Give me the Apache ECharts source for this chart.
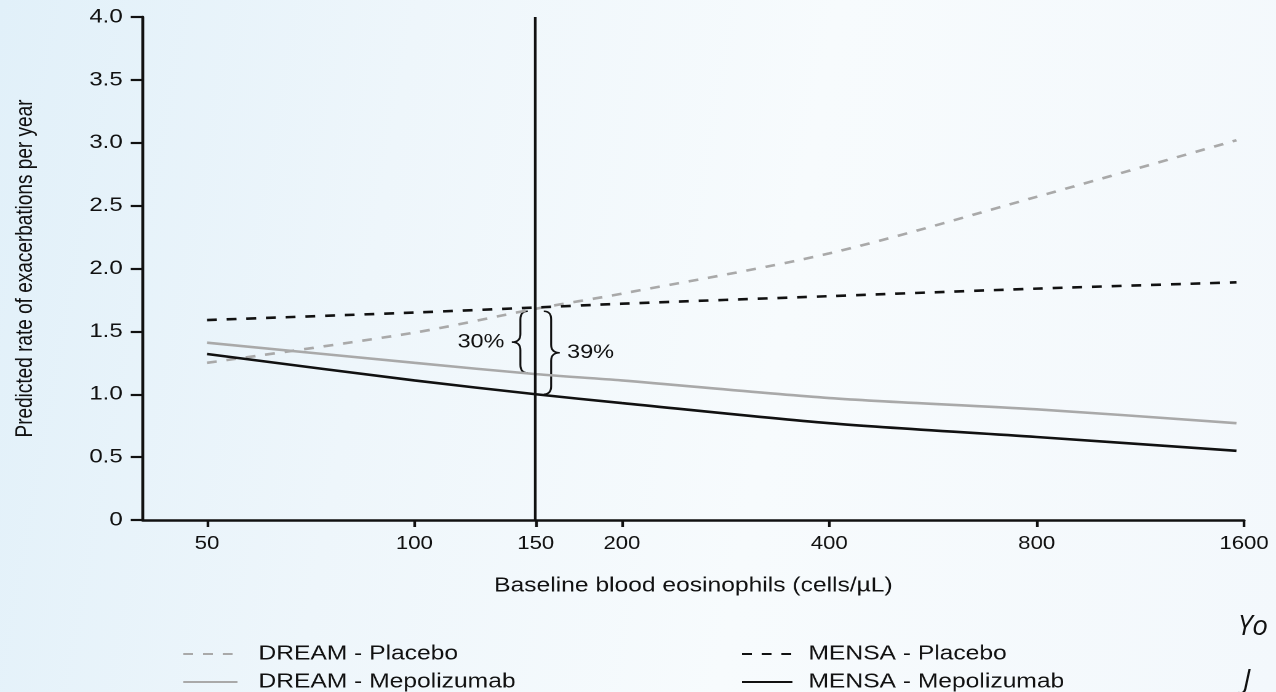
<!DOCTYPE html>
<html>
<head>
<meta charset="utf-8">
<script src="https://cdn.jsdelivr.net/npm/echarts@6/dist/echarts.min.js"></script>
<style>
  html, body {
    margin: 0;
    width: 1276px;
    height: 692px;
    overflow: hidden;
  }
  body {
    position: relative;
    background: linear-gradient(100deg, #e1f0f9 0%, #eef6fb 30%, #f7fbfd 60%, #f3f8fc 100%);
  }
  /* the original figure is stretched sideways on its slide */
  #chart {
    width: 1037px;
    height: 692px;
    transform: scaleX(1.2305);
    transform-origin: 0 0;
  }
  .cite {
    position: absolute;
    font: italic 28px 'Open Sans', sans-serif;
    line-height: 30px;
    color: #111;
  }
</style>
</head>
<body>
<div id="chart"></div>
<div class="cite" style="left:1238px; top:609px;">Yo</div>
<div class="cite" style="left:1243px; top:663px;">J</div>
<script>
// x axis: log2 scale, labelled at these counts
const tickValues = [50, 100, 150, 200, 400, 800, 1600];

// eosinophil counts at which the curves were read
const eos = [50, 100, 150, 200, 400, 800, 1560];
const dreamPlacebo = [1.25, 1.49, 1.68, 1.80, 2.12, 2.57, 3.02];
const dreamMepo = [1.41, 1.25, 1.16, 1.11, 0.97, 0.88, 0.77];
const mensaPlacebo = [1.59, 1.65, 1.69, 1.72, 1.78, 1.84, 1.89];
const mensaMepo = [1.32, 1.11, 1.00, 0.93, 0.77, 0.66, 0.55];

// reduction braces at 150 cells/uL
const cutoff = 150;
const braceTop = [1.66, 1.66];
const braceBottom = [1.17, 1.0];
const braceLabels = ['30%', '39%'];
const braceSides = [-1, 1];

const font = '"Liberation Sans", Arial, sans-serif';

// doublings above 50 cells/uL
function toUnit(v) {
  return Math.log2(v / 50);
}

const tickUnits = tickValues.map(toUnit);

function pairs(ys) {
  return eos.map((x, i) => [toUnit(x), ys[i]]);
}

const grey = '#a9a9a9';
const black = '#111111';

function lineSeries(name, ys, color, dashed) {
  return {
    name: name,
    type: 'line',
    data: pairs(ys),
    smooth: 0.3,
    symbol: 'none',
    lineStyle: { color: color, width: 2.6, type: dashed ? [8, 8] : 'solid' },
    itemStyle: { color: color },
  };
}

const series = [
  lineSeries('DREAM - Placebo', dreamPlacebo, grey, true),
  lineSeries('DREAM - Mepolizumab', dreamMepo, grey, false),
  lineSeries('MENSA - Placebo', mensaPlacebo, black, true),
  lineSeries('MENSA - Mepolizumab', mensaMepo, black, false),
];

series[3].markLine = {
  silent: true,
  symbol: 'none',
  label: { show: false },
  lineStyle: { color: black, width: 2.2, type: 'solid' },
  data: [{ xAxis: toUnit(cutoff) }],
};

series.push({
  name: 'braces',
  type: 'custom',
  clip: false,
  silent: true,
  data: braceTop.map((t, i) => [toUnit(cutoff), t, braceBottom[i]]),
  encode: { x: 0, y: [1, 2] },
  renderItem: function (params, api) {
    const i = params.dataIndex;
    const s = braceSides[i];
    const e = -s;
    const top = api.coord([api.value(0), api.value(1)]);
    const bot = api.coord([api.value(0), api.value(2)]);
    const bx = top[0] + s * 12.5;
    const y1 = top[1], y2 = bot[1], ym = (y1 + y2) / 2;
    const rx = 6, ry = 8, tw = 7;
    const d = 'M' + (bx + e * rx) + ' ' + y1 +
      ' Q' + bx + ' ' + y1 + ' ' + bx + ' ' + (y1 + ry) +
      ' L' + bx + ' ' + (ym - ry) +
      ' Q' + bx + ' ' + ym + ' ' + (bx + s * tw) + ' ' + ym +
      ' Q' + bx + ' ' + ym + ' ' + bx + ' ' + (ym + ry) +
      ' L' + bx + ' ' + (y2 - ry) +
      ' Q' + bx + ' ' + y2 + ' ' + (bx + e * rx) + ' ' + y2;
    const x0 = Math.min(bx + e * rx, bx + s * tw);
    const x1 = Math.max(bx + e * rx, bx + s * tw);
    return {
      type: 'group',
      children: [
        {
          type: 'path',
          shape: { pathData: d, x: x0, y: y1, width: x1 - x0, height: y2 - y1, layout: 'cover' },
          style: { fill: null, stroke: black, lineWidth: 1.6 },
        },
        {
          type: 'text',
          style: {
            x: bx + s * (tw + 6),
            y: ym,
            text: braceLabels[i],
            fill: '#111',
            font: '19px ' + font,
            align: s < 0 ? 'right' : 'left',
            verticalAlign: 'middle',
          },
        },
      ],
    };
  },
});

const legendCommon = {
  type: 'plain',
  orient: 'vertical',
  top: 644,
  height: 80,
  padding: 0,
  itemHeight: 14,
  itemGap: 8,
  selectedMode: false,
  itemStyle: { opacity: 0 },
};

const chartOption = {
  animation: false,
  backgroundColor: 'transparent',
  grid: { left: 116, right: 26, top: 17, bottom: 172, outerBoundsMode: 'none' },
  legend: [
    Object.assign({
      left: 148,
      itemWidth: 44,
      data: ['DREAM - Placebo', 'DREAM - Mepolizumab'],
      textStyle: { fontSize: 20, fontFamily: font, color: '#111', padding: [0, 0, 0, 12] },
    }, legendCommon),
    Object.assign({
      left: 602,
      itemWidth: 41,
      data: ['MENSA - Placebo', 'MENSA - Mepolizumab'],
      textStyle: { fontSize: 20, fontFamily: font, color: '#111', padding: [0, 0, 0, 8] },
    }, legendCommon),
  ],
  xAxis: {
    type: 'value',
    min: -0.31,
    max: 5,
    name: 'Baseline blood eosinophils (cells/µL)',
    nameLocation: 'middle',
    nameGap: 56,
    nameTextStyle: { fontSize: 20, fontFamily: font, color: '#111' },
    axisLine: { show: true, onZero: false, lineStyle: { color: black, width: 2.5 } },
    axisTick: { show: true, length: 7, customValues: tickUnits, lineStyle: { color: black, width: 2.2 } },
    axisLabel: {
      customValues: tickUnits,
      margin: 15,
      fontSize: 18,
      fontFamily: font,
      color: '#111',
      formatter: (value) => {
        const i = tickUnits.findIndex((u) => Math.abs(u - value) < 1e-6);
        return i < 0 ? '' : String(tickValues[i]);
      },
    },
    splitLine: { show: false },
  },
  yAxis: {
    type: 'value',
    min: 0,
    max: 4,
    interval: 0.5,
    name: 'Predicted rate of exacerbations per year',
    nameLocation: 'middle',
    nameGap: 85.5,
    nameTextStyle: { fontSize: 19, fontFamily: font, color: '#111' },
    axisLine: { show: true, onZero: false, lineStyle: { color: black, width: 2.4 } },
    axisTick: { show: true, length: 9.75, lineStyle: { color: black, width: 2.2 } },
    axisLabel: {
      margin: 16.3,
      fontSize: 19.5,
      fontFamily: font,
      color: '#111',
      formatter: (value) => (value === 0 ? '0' : value.toFixed(1)),
    },
    splitLine: { show: false },
  },
  series: series,
};

const myChart = echarts.init(document.getElementById('chart'), null, { renderer: 'canvas', devicePixelRatio: 2 });
myChart.setOption(chartOption);
</script>
</body>
</html>
